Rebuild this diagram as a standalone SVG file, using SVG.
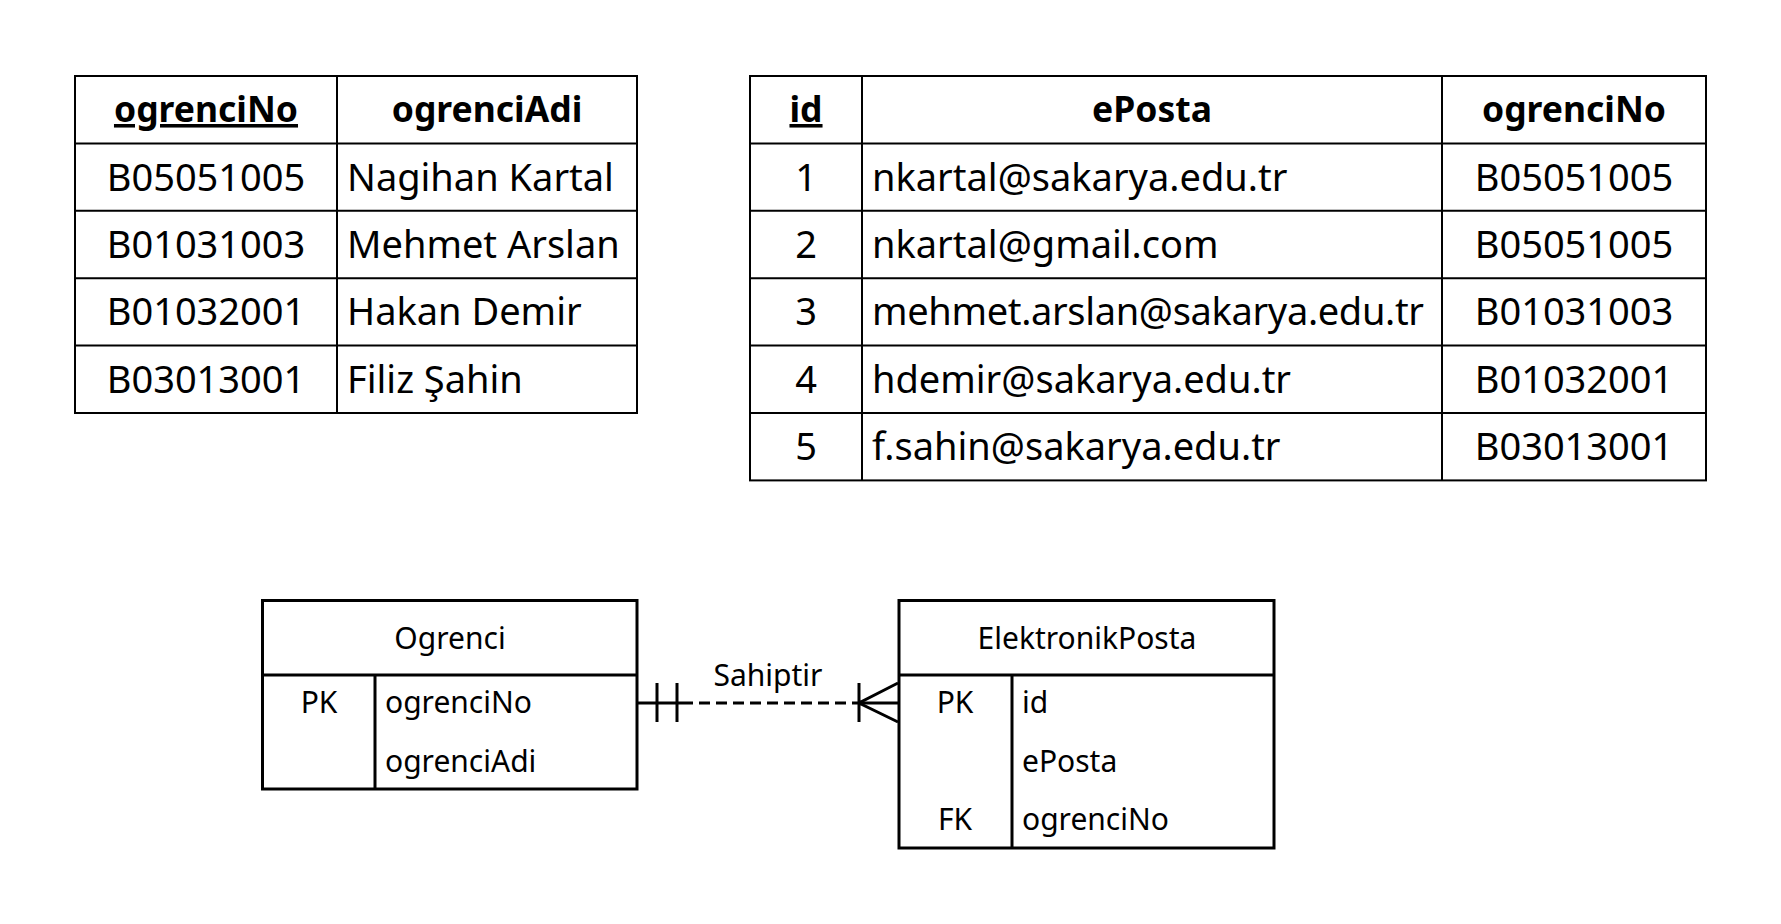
<svg xmlns="http://www.w3.org/2000/svg" width="1781" height="924" viewBox="0 0 1781 924">
<style>
  text { font-family: "Noto Sans", "Open Sans", sans-serif; fill: #000; }
  .t { font-size: 38px; }
  .h { font-size: 35.5px; font-weight: bold; }
  .u { text-decoration: underline; }
  .c { text-anchor: middle; }
  .e { font-size: 30px; }
  .grid { fill: none; stroke: #000; stroke-width: 2; }
  .box { fill: none; stroke: #000; stroke-width: 3; }
  .conn { fill: none; stroke: #000; stroke-width: 3; }
</style>
<rect width="1781" height="924" fill="#fff"/>

<g id="table-ogrenci">
  <rect class="grid" x="75" y="76" width="562" height="337"/>
  <path class="grid" d="M337 76V413 M75 143.4H637 M75 210.8H637 M75 278.2H637 M75 345.6H637"/>
  <text class="h u c" x="206" y="122">ogrenciNo</text>
  <text class="h c" x="487" y="122">ogrenciAdi</text>
  <text class="t c" x="206" y="190.6">B05051005</text>
  <text class="t" x="347" y="190.6">Nagihan Kartal</text>
  <text class="t c" x="206" y="258">B01031003</text>
  <text class="t" x="347" y="258">Mehmet Arslan</text>
  <text class="t c" x="206" y="325.4">B01032001</text>
  <text class="t" x="347" y="325.4">Hakan Demir</text>
  <text class="t c" x="206" y="392.8">B03013001</text>
  <text class="t" x="347" y="392.8">Filiz Şahin</text>
</g>

<g id="table-eposta">
  <rect class="grid" x="750" y="76" width="956" height="404.4"/>
  <path class="grid" d="M862 76V480.4 M1442 76V480.4 M750 143.4H1706 M750 210.8H1706 M750 278.2H1706 M750 345.6H1706 M750 413H1706"/>
  <text class="h u c" x="806" y="122">id</text>
  <text class="h c" x="1152" y="122">ePosta</text>
  <text class="h c" x="1574" y="122">ogrenciNo</text>
  <text class="t c" x="806" y="190.6">1</text>
  <text class="t" x="872" y="190.6">nkartal@sakarya.edu.tr</text>
  <text class="t c" x="1574" y="190.6">B05051005</text>
  <text class="t c" x="806" y="258">2</text>
  <text class="t" x="872" y="258">nkartal@gmail.com</text>
  <text class="t c" x="1574" y="258">B05051005</text>
  <text class="t c" x="806" y="325.4">3</text>
  <text class="t" x="872" y="325.4" textLength="552" lengthAdjust="spacing">mehmet.arslan@sakarya.edu.tr</text>
  <text class="t c" x="1574" y="325.4">B01031003</text>
  <text class="t c" x="806" y="392.8">4</text>
  <text class="t" x="872" y="392.8">hdemir@sakarya.edu.tr</text>
  <text class="t c" x="1574" y="392.8">B01032001</text>
  <text class="t c" x="806" y="460.2">5</text>
  <text class="t" x="872" y="460.2">f.sahin@sakarya.edu.tr</text>
  <text class="t c" x="1574" y="460.2">B03013001</text>
</g>

<g id="entity-ogrenci">
  <rect class="box" x="262.5" y="600.5" width="374.5" height="188.5"/>
  <path class="box" d="M262.5 675H637 M375 675V789"/>
  <text class="e c" x="450" y="649">Ogrenci</text>
  <text class="e c" x="319" y="713">PK</text>
  <text class="e" x="385" y="713">ogrenciNo</text>
  <text class="e" x="385" y="771.5">ogrenciAdi</text>
</g>

<g id="entity-elektronikposta">
  <rect class="box" x="899" y="600.5" width="375" height="247.5"/>
  <path class="box" d="M899 675H1274 M1012 675V848"/>
  <text class="e c" x="1087" y="649">ElektronikPosta</text>
  <text class="e c" x="955" y="713">PK</text>
  <text class="e" x="1022" y="713">id</text>
  <text class="e" x="1022" y="771.5">ePosta</text>
  <text class="e c" x="955" y="830">FK</text>
  <text class="e" x="1022" y="830">ogrenciNo</text>
</g>

<g id="connectors">
  <path class="conn" d="M637 703H682"/>
  <path class="conn" d="M682 703H859" stroke-dasharray="11 6"/>
  <path class="conn" d="M859 703H899"/>
  <path class="conn" d="M657 683V722 M677 683V722"/>
  <path class="conn" d="M859 683V722 M898 683L859 703L898 722"/>
  <text class="e c" x="768" y="686">Sahiptir</text>
</g>
</svg>
